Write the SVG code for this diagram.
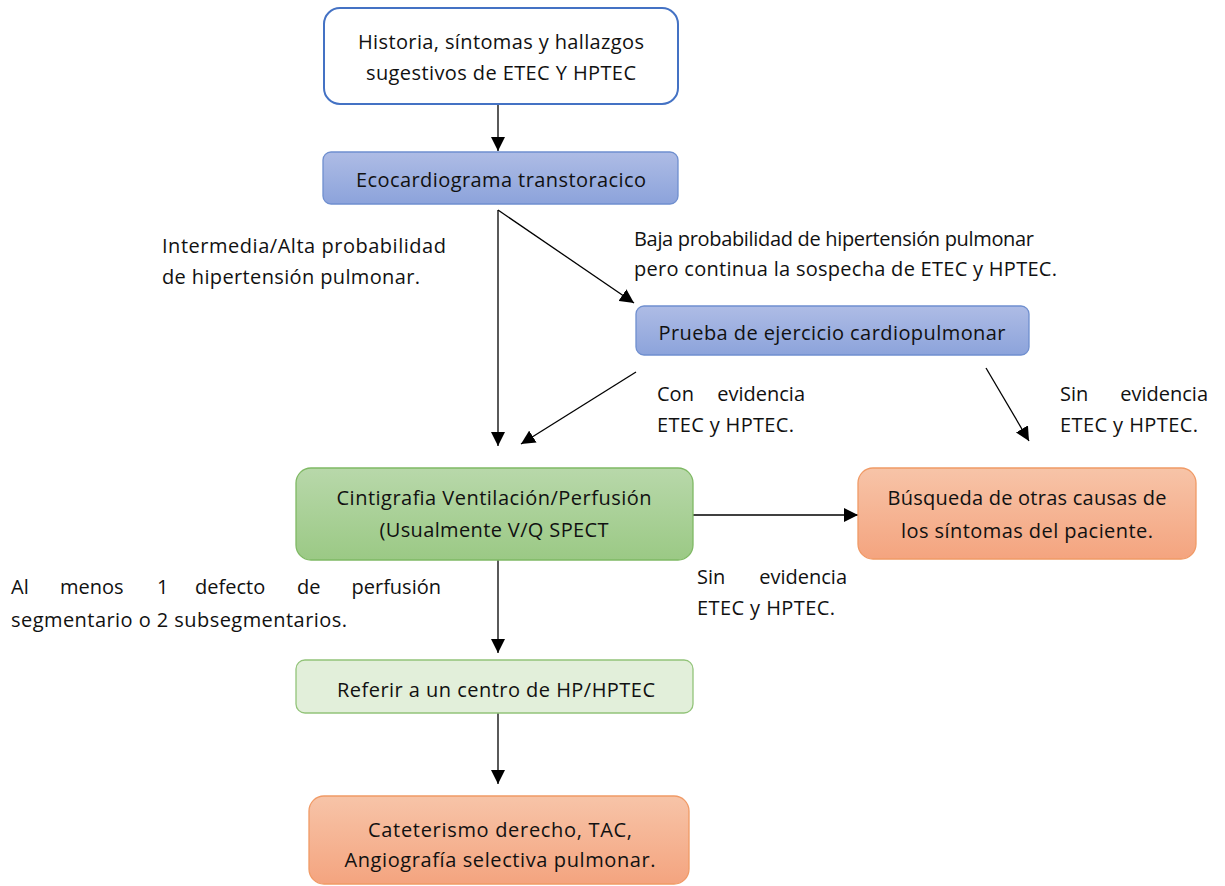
<svg xmlns="http://www.w3.org/2000/svg" width="1225" height="886" viewBox="0 0 1225 886">
<style>
text{font-family:"Open Sans","Noto Sans","Liberation Sans",sans-serif;font-size:20px;fill:#111}
.c{text-anchor:middle}
.e{text-anchor:end}
.ln{stroke:#000;stroke-width:1.3;fill:none}
</style>
<defs>
<linearGradient id="gb" x1="0" y1="0" x2="0" y2="1"><stop offset="0" stop-color="#AEBCE5"/><stop offset="1" stop-color="#8CA3DB"/></linearGradient>
<linearGradient id="gg" x1="0" y1="0" x2="0" y2="1"><stop offset="0" stop-color="#B8D8AA"/><stop offset="1" stop-color="#9BC985"/></linearGradient>
<linearGradient id="go" x1="0" y1="0" x2="0" y2="1"><stop offset="0" stop-color="#F7C4A8"/><stop offset="1" stop-color="#F4A47F"/></linearGradient>
<marker id="ah" viewBox="0 0 10 10" refX="10" refY="5" markerWidth="14" markerHeight="14" markerUnits="userSpaceOnUse" orient="auto"><path d="M0,0 L10,5 L0,10 z" fill="#000"/></marker>
</defs>

<g id="connectors">
<line class="ln" x1="498" y1="104" x2="498" y2="151" marker-end="url(#ah)"/>
<line class="ln" x1="498" y1="210" x2="498" y2="446" marker-end="url(#ah)"/>
<line class="ln" x1="498" y1="210" x2="634" y2="303" marker-end="url(#ah)"/>
<line class="ln" x1="636" y1="372" x2="521" y2="444" marker-end="url(#ah)"/>
<line class="ln" x1="986" y1="368" x2="1029" y2="441" marker-end="url(#ah)"/>
<line class="ln" x1="693" y1="515" x2="858" y2="515" marker-end="url(#ah)"/>
<line class="ln" x1="498" y1="560" x2="498" y2="653" marker-end="url(#ah)"/>
<line class="ln" x1="498" y1="713" x2="498" y2="784" marker-end="url(#ah)"/>
</g>

<g id="labels">
<text x="162" y="253" textLength="284">Intermedia/Alta probabilidad</text>
<text x="162" y="284" textLength="258">de hipertensión pulmonar.</text>
<text x="634" y="246" textLength="400">Baja probabilidad de hipertensión pulmonar</text>
<text x="634" y="276" textLength="423">pero continua la sospecha de ETEC y HPTEC.</text>
<text x="657" y="401">Con</text><text class="e" x="805" y="401">evidencia</text>
<text x="657" y="432" textLength="137">ETEC y HPTEC.</text>
<text x="1060" y="401">Sin</text><text class="e" x="1208" y="401">evidencia</text>
<text x="1060" y="432" textLength="138">ETEC y HPTEC.</text>
<text x="697" y="584">Sin</text><text class="e" x="847" y="584">evidencia</text>
<text x="697" y="615" textLength="138">ETEC y HPTEC.</text>
<text x="11" y="594">Al</text>
<text x="60" y="594">menos</text>
<text x="157" y="594">1</text>
<text x="195" y="594">defecto</text>
<text x="297" y="594">de</text>
<text class="e" x="441" y="594">perfusión</text>
<text x="11" y="627" textLength="336">segmentario o 2 subsegmentarios.</text>
</g>

<g id="n1">
<rect x="324" y="8" width="354" height="96" rx="16" fill="#fff" stroke="#4472C4" stroke-width="2"/>
<text class="c" x="501" y="49" textLength="286">Historia, síntomas y hallazgos</text>
<text class="c" x="501" y="80" textLength="270">sugestivos de ETEC Y HPTEC</text>
</g>
<g id="n2">
<rect x="323" y="152" width="355" height="52" rx="8" fill="url(#gb)" stroke="#6F8FCF" stroke-width="1.3"/>
<text class="c" x="501" y="187" textLength="290">Ecocardiograma transtoracico</text>
</g>
<g id="n3">
<rect x="636" y="306" width="393" height="49" rx="8" fill="url(#gb)" stroke="#6F8FCF" stroke-width="1.3"/>
<text class="c" x="832" y="340" textLength="347">Prueba de ejercicio cardiopulmonar</text>
</g>
<g id="n4">
<rect x="296" y="468" width="397" height="92" rx="15" fill="url(#gg)" stroke="#7FB964" stroke-width="1.3"/>
<text class="c" x="494" y="505" textLength="315">Cintigrafia Ventilación/Perfusión</text>
<text class="c" x="494" y="537" textLength="229">(Usualmente V/Q SPECT</text>
</g>
<g id="n5">
<rect x="858" y="468" width="338" height="91" rx="15" fill="url(#go)" stroke="#F09A66" stroke-width="1.3"/>
<text class="c" x="1027" y="505" textLength="279">Búsqueda de otras causas de</text>
<text class="c" x="1027" y="538" textLength="252">los síntomas del paciente.</text>
</g>
<g id="n6">
<rect x="296" y="660" width="397" height="53" rx="9" fill="#E2EFDA" stroke="#93C47A" stroke-width="1.3"/>
<text class="c" x="496" y="697" textLength="318">Referir a un centro de HP/HPTEC</text>
</g>
<g id="n7">
<rect x="309" y="796" width="380" height="88" rx="15" fill="url(#go)" stroke="#F09A66" stroke-width="1.3"/>
<text class="c" x="500" y="837" textLength="264">Cateterismo derecho, TAC,</text>
<text class="c" x="500" y="867" textLength="311">Angiografía selectiva pulmonar.</text>
</g>
</svg>
